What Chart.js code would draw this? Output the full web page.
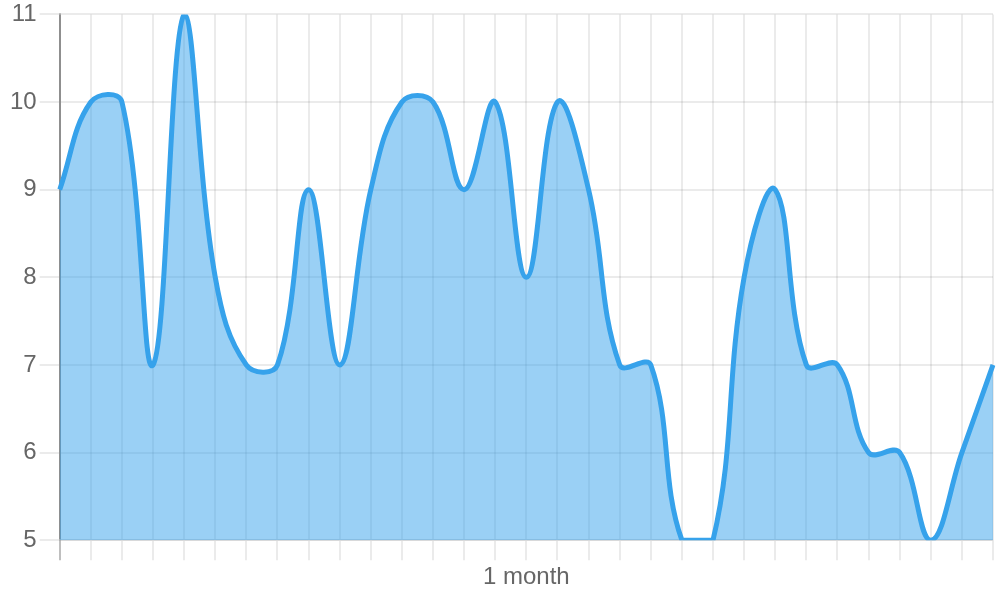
<!DOCTYPE html>
<html lang="en">
<head>
<meta charset="UTF-8" />
<title>Monthly values</title>
<script src="https://cdn.jsdelivr.net/npm/chart.js"></script>
<style>
  body { margin: 0; background: #fff; }
  canvas { display: block; }
</style>
</head>
<body>
<canvas id="chart" width="1000" height="600"></canvas>
<script>
// one label per day, only the middle one is shown
const labels = [
  '', '', '', '', '', '', '', '', '', '', '', '', '', '', '',
  '1 month',
  '', '', '', '', '', '', '', '', '', '', '', '', '', '', ''
];
const values = [9, 10, 10, 7, 11, 8, 7, 7, 9, 7, 9, 10, 10, 9, 10, 8, 10, 9, 7, 7, 5, 5, 8, 9, 7, 7, 6, 6, 5, 6, 7];
const yMin = 5;
const yMax = 11;

const ctx = document.getElementById('chart').getContext('2d');
const fontFamily = 'Arial, "Liberation Sans", sans-serif';

new Chart(ctx, {
  type: 'line',
  data: {
    labels: labels,
    datasets: [{
      data: values,
      borderColor: 'rgb(54,162,235)',
      backgroundColor: 'rgba(54,162,235,0.5)',
      borderWidth: 5,
      fill: true,
      tension: 0.4,
      pointRadius: 0
    }]
  },
  options: {
    responsive: false,
    animation: false,
    layout: { padding: { left: 7, right: 7, top: 0, bottom: 5 } },
    plugins: {
      legend: { display: false },
      tooltip: { enabled: false }
    },
    scales: {
      x: {
        grid: {
          color: c => c.index === 0 ? 'rgba(0,0,0,0.25)' : 'rgba(0,0,0,0.08)',
          lineWidth: 2,
          tickLength: 20
        },
        border: { color: 'rgba(0,0,0,0.08)', width: 2 },
        ticks: { autoSkip: false, maxRotation: 0, color: '#666', font: { size: 24, family: fontFamily } }
      },
      y: {
        min: yMin,
        max: yMax,
        grid: { color: 'rgba(0,0,0,0.08)', lineWidth: 2, tickLength: 20 },
        border: { color: 'rgba(0,0,0,0.25)', width: 2 },
        ticks: { stepSize: 1, color: '#666', font: { size: 24, lineHeight: 0.95, family: fontFamily } }
      }
    }
  }
});
</script>
</body>
</html>
